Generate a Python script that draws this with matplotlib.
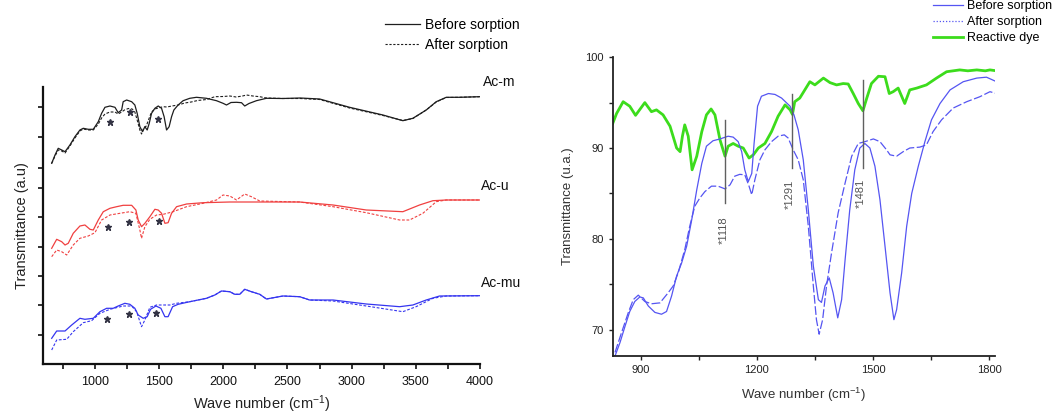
import matplotlib
matplotlib.use("Agg")
import matplotlib.pyplot as plt
from matplotlib.lines import Line2D

plt.rcParams['font.family'] = ['Liberation Sans', 'DejaVu Sans']
plt.rcParams['mathtext.fontset'] = 'custom'
plt.rcParams['mathtext.rm'] = 'Liberation Sans'
plt.rcParams['mathtext.it'] = 'Liberation Sans:italic'

# ---------------- Left panel data (offset stacked spectra, a.u.) ----------------
acm_before_wn = [663, 689, 714, 741, 767, 805, 844, 883, 909, 948, 987, 1026, 1052, 1078, 1117, 1156,
                 1181, 1208, 1220, 1247, 1286, 1311, 1329, 1350, 1371, 1389, 1407, 1423, 1441, 1467,
                 1493, 1519, 1539, 1558, 1578, 1597, 1615, 1648, 1687, 1739, 1791, 1869, 1947, 1998,
                 2025, 2060, 2103, 2142, 2167, 2200, 2258, 2336, 2463, 2600, 2751, 2984, 3244, 3399,
                 3477, 3581, 3659, 3737, 3840, 3996]
acm_before_t = [200.7, 209, 215.7, 214, 212.3, 219, 227.3, 234, 235.7, 234.7, 234.7, 242.3, 250.7, 256.7,
                258, 256.7, 251.3, 254, 262.3, 264, 262.3, 259, 250.7, 237.3, 232.3, 237.3, 234, 240.7,
                250.7, 255.7, 258, 255.7, 247.3, 234, 237.3, 247.3, 254, 259, 263.3, 265.7, 266.7,
                265.7, 263.3, 260.7, 259, 261.5, 261.7, 261.3, 258, 260.5, 263.3, 265.7, 265.5, 266,
                265, 256.7, 249, 243.3, 245.7, 254, 262.3, 266.7, 266.7, 267.3]

acm_after_wn = [663, 689, 714, 741, 767, 805, 844, 883, 909, 948, 987, 1026, 1052, 1078, 1117, 1156,
                1181, 1208, 1230, 1260, 1290, 1311, 1329, 1350, 1363, 1380, 1400, 1420, 1441, 1467,
                1493, 1531, 1560, 1600, 1648, 1700, 1750, 1800, 1870, 1934, 2000, 2051, 2100, 2150,
                2181, 2230, 2284, 2336, 2463, 2600, 2751, 2984, 3244, 3399, 3477, 3581, 3659, 3737,
                3840, 3996]
acm_after_t = [200.7, 208, 214, 213, 211, 218, 226, 233, 235, 234, 234, 240, 246, 250, 252, 252, 250,
               252, 254, 255.5, 255, 252, 244, 234, 230, 236, 238, 245, 252, 255, 256, 257.3, 257, 258,
               259, 261, 262, 263.5, 264.5, 267.3, 267.5, 268, 267, 268, 269, 268, 267.3, 266, 265.5,
               265.5, 264.5, 256, 248.5, 243.5, 245.5, 254, 262, 266.5, 266.7, 267.3]

acu_before_wn = [663, 702, 741, 767, 792, 831, 883, 922, 961, 987, 1026, 1065, 1117, 1169, 1220, 1286,
                 1319, 1337, 1363, 1389, 1428, 1467, 1493, 1519, 1545, 1570, 1597, 1636, 1714, 1843,
                 2051, 2284, 2595, 2855, 3114, 3399, 3529, 3633, 3737, 3996]
acu_before_t = [115.7, 124.7, 122.3, 119, 120.7, 130.7, 138, 139, 134.7, 134, 144, 152.3, 155.7, 157.3,
                158.7, 158.7, 154, 144, 137.3, 140.7, 147.3, 154.7, 154, 150.7, 140.7, 141.3, 150.7,
                157.3, 160, 161.3, 162, 162, 162, 159, 154, 152.3, 159, 163.3, 164, 164]

acu_after_wn = [663, 702, 741, 780, 831, 883, 948, 1000, 1052, 1117, 1195, 1272, 1319, 1350, 1363, 1389,
                1428, 1480, 1532, 1609, 1714, 1843, 1947, 1998, 2051, 2103, 2167, 2219, 2284, 2595,
                2855, 3114, 3374, 3451, 3555, 3659, 3737, 3996]
acu_after_t = [107.3, 114, 112.3, 109, 119, 125.7, 128, 131.3, 144, 149, 150.7, 152.3, 150.7, 134,
               125.7, 137.3, 144.7, 149, 149.7, 152.3, 157.3, 160.7, 164, 169, 168, 164, 170, 167.3,
               163, 162, 157.3, 151.3, 144, 144, 150.7, 162.3, 164, 164]

acmu_before_wn = [663, 702, 767, 819, 883, 922, 987, 1039, 1091, 1142, 1181, 1233, 1272, 1311, 1337,
                  1376, 1407, 1433, 1475, 1514, 1545, 1570, 1605, 1648, 1739, 1869, 1934, 1986, 2051,
                  2089, 2128, 2167, 2219, 2284, 2336, 2465, 2595, 2673, 2855, 3114, 3374, 3477, 3581,
                  3685, 3996]
acmu_before_t = [25.7, 33, 33, 39, 45.7, 44.7, 45.7, 52.3, 55.7, 55.7, 58, 60.7, 59.7, 55.7, 49, 45.7,
                 47.3, 54.7, 58, 55.7, 47.3, 47.3, 57.3, 59.7, 62.3, 65.7, 69, 73, 72.3, 69.7, 69.7,
                 74.7, 72.3, 69.7, 65, 68, 67.3, 64, 64, 60, 57.3, 59, 64, 68, 68.3]

acmu_after_wn = [663, 702, 780, 831, 909, 974, 1039, 1117, 1220, 1286, 1325, 1363, 1389, 1428, 1480,
                 1584, 1636, 1739, 1869, 1934, 1986, 2051, 2089, 2128, 2167, 2219, 2284, 2336, 2465,
                 2595, 2673, 2855, 3114, 3399, 3502, 3633, 3737, 3996]
acmu_after_t = [14, 24, 24.7, 32.3, 41.3, 43.3, 50.7, 54.7, 58, 58, 52.3, 37.3, 44, 56.7, 59, 59,
                60.7, 62.3, 65.7, 69, 73, 72.3, 69.7, 69.7, 74.7, 72.3, 69.7, 65, 68, 67.3, 64, 63,
                58, 52.3, 57.3, 65.7, 68, 68.3]

star_wn = [1117, 1272, 1493, 1104, 1267, 1496, 1096, 1267, 1475]
star_t = [242.3, 251.7, 244.7, 137.3, 142.3, 143.3, 44.7, 50, 50.7]

sample_names = ['Ac-m', 'Ac-u', 'Ac-mu']
sample_label_wn = [4020, 4005, 4010]
sample_label_t = [282, 178.3, 81.3]

left_yticks = [29, 59, 88, 117, 147, 176, 196, 227, 257]
left_xticks = [1000, 1500, 2000, 2500, 3000, 3500, 4000]

# ---------------- Right panel data (Transmittance %) ----------------
dye_wn = [828, 838, 855, 872, 887, 911, 928, 941, 958, 976, 993, 1002, 1008, 1014, 1023, 1033, 1045,
          1058, 1070, 1082, 1092, 1105, 1118, 1126, 1139, 1152, 1165, 1180, 1191, 1204, 1221, 1238,
          1255, 1273, 1286, 1292, 1298, 1311, 1324, 1337, 1350, 1372, 1389, 1406, 1423, 1436, 1449,
          1462, 1474, 1484, 1496, 1514, 1531, 1542, 1552, 1565, 1582, 1595, 1613, 1638, 1664, 1690,
          1724, 1745, 1768, 1790, 1802, 1819]
dye_t = [92.7, 93.8, 95.1, 94.6, 93.6, 95.0, 94.0, 94.2, 93.65, 92.4, 90.0, 89.6, 91.3, 92.55, 91.3,
         87.6, 89.1, 91.8, 93.65, 94.3, 93.65, 90.9, 89.1, 90.2, 90.5, 90.2, 90.0, 88.9, 89.25, 90.0,
         90.5, 91.8, 93.5, 94.75, 94.2, 93.7, 95.1, 95.5, 96.4, 97.3, 96.95, 97.7, 97.2, 96.95, 97.1,
         97.05, 96.0, 94.9, 94.1, 95.5, 97.1, 97.9, 97.85, 96.0, 96.2, 96.6, 94.9, 96.4, 96.6, 96.95,
         97.7, 98.4, 98.6, 98.5, 98.6, 98.5, 98.6, 98.5]

before_wn = [834, 847, 860, 872, 885, 898, 907, 920, 937, 954, 967, 980, 993, 1006, 1019, 1032, 1045,
             1058, 1070, 1087, 1105, 1126, 1139, 1152, 1161, 1169, 1178, 1187, 1193, 1202, 1212, 1230,
             1247, 1264, 1286, 1296, 1307, 1320, 1333, 1346, 1359, 1367, 1376, 1387, 1397, 1409, 1419,
             1428, 1440, 1453, 1466, 1479, 1492, 1505, 1518, 1531, 1544, 1554, 1561, 1574, 1587, 1600,
             1617, 1634, 1651, 1673, 1699, 1733, 1768, 1793, 1819]
before_t = [67.1, 68.6, 70.4, 72.0, 73.1, 73.6, 73.5, 72.6, 71.9, 71.7, 72.0, 73.7, 75.9, 77.35, 79.2,
            82.1, 85.4, 88.3, 90.2, 90.8, 91.0, 91.3, 91.2, 90.7, 89.6, 87.6, 86.3, 87.2, 90.5, 94.6,
            95.7, 96.0, 95.9, 95.5, 94.6, 93.65, 92.0, 88.7, 83.2, 77.0, 73.3, 73.0, 74.8, 75.7, 74.05,
            71.3, 73.3, 77.7, 83.2, 87.6, 90.0, 90.5, 90.0, 88.0, 84.3, 79.2, 74.05, 71.1, 72.2, 76.25,
            81.4, 85.0, 88.0, 90.7, 93.1, 94.9, 96.4, 97.3, 97.7, 97.8, 97.3]

after_wn = [834, 851, 868, 881, 894, 911, 928, 950, 971, 984, 997, 1014, 1027, 1040, 1053, 1066, 1083,
            1100, 1118, 1131, 1143, 1156, 1169, 1180, 1187, 1195, 1208, 1221, 1238, 1255, 1271, 1281,
            1290, 1294, 1307, 1320, 1333, 1346, 1354, 1361, 1370, 1380, 1393, 1410, 1428, 1445, 1462,
            1479, 1501, 1518, 1535, 1544, 1561, 1578, 1595, 1621, 1638, 1655, 1677, 1707, 1742, 1776,
            1802, 1819]
after_t = [67.5, 69.7, 71.85, 73.3, 73.8, 73.1, 72.85, 72.95, 74.05, 74.8, 76.25, 78.8, 81.4, 83.6,
           84.5, 85.2, 85.8, 85.8, 85.5, 85.95, 86.9, 87.1, 87.05, 85.8, 84.85, 86.5, 88.7, 89.8, 90.7,
           91.3, 91.45, 91.1, 90.2, 89.8, 88.7, 86.5, 81.4, 74.8, 71.1, 69.5, 71.1, 74.8, 78.45, 82.85,
           86.15, 89.1, 90.5, 90.7, 91.0, 90.7, 89.8, 89.25, 89.1, 89.6, 90.0, 90.1, 90.35, 91.8, 93.1,
           94.4, 95.1, 95.65, 96.2, 96.0]

peak_line_wn = [1118, 1290, 1474]
peak_line_top = [93.1, 96.0, 97.5]
peak_line_bottom = [84.0, 87.8, 87.8]
peak_labels = ['*1118', '*1291', '*1481']
peak_label_wn = [1114, 1284, 1468]
peak_label_t = [81.0, 84.85, 85.0]

right_yticks = [70, 80, 90, 100]
right_xticks = [900, 1200, 1500, 1800]

# ---------------- Figure ----------------
W, H = 1055, 415
fig = plt.figure(figsize=(W / 100, H / 100), dpi=100)

def fr(l, t, r, b):
    return [l / W, 1 - b / H, (r - l) / W, (b - t) / H]

BLACK = '#1e1e1e'
RED = '#f04040'
BLUE_L = '#3535f0'
BLUE_R = '#5555f2'
GREEN = '#3cdc1c'

# Left axes
ax1 = fig.add_axes(fr(42.7, 87, 480, 364))
ax1.plot(acm_before_wn, acm_before_t, color=BLACK, lw=0.9)
ax1.plot(acm_after_wn, acm_after_t, color=BLACK, lw=0.8, ls=(0, (2.5, 1.5)))
ax1.plot(acu_before_wn, acu_before_t, color=RED, lw=0.9)
ax1.plot(acu_after_wn, acu_after_t, color=RED, lw=0.8, ls=(0, (2.5, 1.5)))
ax1.plot(acmu_before_wn, acmu_before_t, color=BLUE_L, lw=0.9)
ax1.plot(acmu_after_wn, acmu_after_t, color=BLUE_L, lw=0.8, ls=(0, (2.5, 1.5)))
ax1.plot(star_wn, star_t, ls='none', marker='*', ms=4.5, color='#333344')
for name, xw, yt in zip(sample_names, sample_label_wn, sample_label_t):
    ax1.text(xw, yt, name, fontsize=10, ha='left', va='center', clip_on=False, color='#111111')

ax1.set_xlim(593, 4000)
ax1.set_ylim(0, 277)
ax1.set_xticks(left_xticks)
ax1.set_xticks([750, 1250, 1750, 2250, 2750, 3250, 3750], minor=True)
ax1.set_yticks(left_yticks)
ax1.set_yticklabels([])
for s in ['top', 'right']:
    ax1.spines[s].set_visible(False)
for s in ['left', 'bottom']:
    ax1.spines[s].set_linewidth(1.6)
    ax1.spines[s].set_color('#111111')
ax1.tick_params(axis='both', which='both', direction='out', length=3.5, width=1.2, labelsize=9,
                colors='#111111')
ax1.tick_params(axis='x', pad=5)
ax1.set_xlabel('Wave number (cm$^{\\mathregular{-1}}$)', fontsize=10.5, labelpad=4, color='#222222')
ax1.set_ylabel('Transmittance (a.u)', fontsize=10.5, labelpad=3, color='#222222')

leg1 = ax1.legend(handles=[Line2D([], [], color=BLACK, lw=0.9),
                           Line2D([], [], color=BLACK, lw=0.8, ls=(0, (2, 1.5)))],
                  labels=['Before sorption', 'After sorption'],
                  loc='upper left', bbox_to_anchor=(385 / W, 1 - 18 / H), bbox_transform=fig.transFigure,
                  frameon=False, fontsize=10, handlelength=2.5, handletextpad=0.4,
                  labelspacing=0.4, borderpad=0, borderaxespad=0)

# Right axes
ax2 = fig.add_axes(fr(612.7, 57.2, 995, 356))
ax2.plot(dye_wn, dye_t, color=GREEN, lw=2.0)
ax2.plot(before_wn, before_t, color=BLUE_R, lw=0.9)
ax2.plot(after_wn, after_t, color=BLUE_R, lw=0.9, ls=(0, (7, 2)))
for xw, yt0, yt1 in zip(peak_line_wn, peak_line_top, peak_line_bottom):
    ax2.plot([xw, xw], [yt0, yt1], color='#606060', lw=1.0)
for lab, xw, yt in zip(peak_labels, peak_label_wn, peak_label_t):
    ax2.text(xw, yt, lab, rotation=90, fontsize=8, ha='center', va='center', color='#555555')

ax2.set_xlim(828, 1815)
ax2.set_ylim(67.1, 100)
ax2.set_xticks(right_xticks)
ax2.set_xticks([1050, 1350, 1650], minor=True)
ax2.set_yticks(right_yticks)
ax2.set_yticks([75, 85, 95], minor=True)
for s in ['top', 'right']:
    ax2.spines[s].set_visible(False)
for s in ['left', 'bottom']:
    ax2.spines[s].set_linewidth(1.3)
    ax2.spines[s].set_color('#222222')
ax2.tick_params(axis='both', which='both', direction='out', length=3, width=1.0, labelsize=8,
                colors='#222222')
ax2.set_xlabel('Wave number (cm$^{\\mathregular{-1}}$)', fontsize=9.5, labelpad=8, color='#333333')
ax2.set_ylabel('Transmittance (u.a.)', fontsize=9.5, labelpad=8, color='#333333')

leg2 = ax2.legend(handles=[Line2D([], [], color=BLUE_R, lw=0.9),
                           Line2D([], [], color=BLUE_R, lw=0.9, ls=(0, (1, 1.5))),
                           Line2D([], [], color=GREEN, lw=2.0)],
                  labels=['Before sorption', 'After sorption', 'Reactive dye'],
                  loc='upper left', bbox_to_anchor=(933 / W, 1 - 0.5 / H), bbox_transform=fig.transFigure,
                  frameon=False, fontsize=9, handlelength=2.4, handletextpad=0.35,
                  labelspacing=0.3, borderpad=0, borderaxespad=0)

fig.savefig('out.png', dpi=100)
